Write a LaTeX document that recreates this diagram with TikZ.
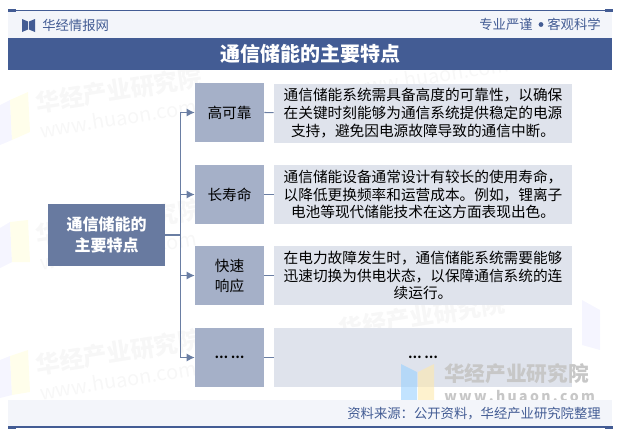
\documentclass[tikz,border=0pt]{standalone}
\usepackage{fontspec}
\setmainfont{Noto Sans CJK SC}
\usetikzlibrary{arrows.meta}

\definecolor{bandblue}{HTML}{435C94}
\definecolor{linkblue}{HTML}{6A7EA3}
\definecolor{mainblue}{HTML}{687AA0}
\definecolor{itemblue}{HTML}{A5B0C8}
\definecolor{descgray}{HTML}{DFE3EC}
\definecolor{palegray}{HTML}{F3F5FA}
\definecolor{markgray}{HTML}{F7F7F7}

\tikzset{
  itembox/.style={fill=itemblue, minimum width=51.75pt, minimum height=44.25pt, inner sep=0pt, align=center, font=\fontsize{11}{15}\selectfont},
  descbox/.style={fill=descgray, minimum width=223.5pt, minimum height=44.25pt, inner sep=0pt, align=center, font=\fontsize{11}{13.2}\selectfont},
  dotsfont/.style={font=\fontsize{9}{9}\selectfont\bfseries},
  bluetext/.style={text=bandblue, inner sep=0pt, font=\fontsize{10}{10}\selectfont},
  link/.style={draw=linkblue, line width=0.9pt},
  linkarrow/.style={link, -{Latex[length=6pt,width=6pt]}},
  markbig/.style={text=markgray, rotate=9, font=\fontsize{18}{18}\selectfont\bfseries},
  marksmall/.style={text=markgray, rotate=9, font=\fontsize{15}{15}\selectfont},
}

\begin{document}
\begin{tikzpicture}[x=0.75pt,y=-0.75pt]
\useasboundingbox (0,0) rectangle (623,436);

% watermark
\fill[blue!4] (0,105) -- (10,100) -- (12,140) -- (0,145) -- cycle;
\fill[yellow!8] (10,100) -- (28,92) -- (30,132) -- (12,140) -- cycle;
\fill[blue!4] (0,228) -- (10,222) -- (12,262) -- (0,268) -- cycle;
\fill[yellow!8] (10,222) -- (28,220) -- (30,262) -- (12,262) -- cycle;
\fill[blue!4] (0,360) -- (10,356) -- (12,395) -- (0,398) -- cycle;
\fill[yellow!8] (10,356) -- (28,350) -- (30,392) -- (12,395) -- cycle;
\fill[blue!4] (582,300) -- (600,310) -- (600,350) -- (582,345) -- cycle;
\node[markbig] (mark1) at (119,90) {华经产业研究院};
\node[marksmall] (site1) at (118,118) {www.huaon.com};
\node[markbig] (mark2) at (119,222) {华经产业研究院};
\node[marksmall] (site2) at (118,250) {www.huaon.com};
\node[markbig] (mark3) at (119,352) {华经产业研究院};
\node[marksmall] (site3) at (118,380) {www.huaon.com};
\node[marksmall] (site4) at (430,76) {www.huaon.com};
\node[markbig] (mark5) at (422,316) {华经产业研究院};

% header
\fill[palegray] (8,11) rectangle (612,38);
\draw[bandblue, line width=0.8pt] (8,10.5) -- (613,10.5);
\fill[bandblue] (8,9) rectangle (16,12);
\fill[bandblue] (605,9) rectangle (613,12);
\fill[bandblue] (22,19) -- (28,21.5) -- (28,29.5) -- (22,32) -- cycle;
\fill[bandblue] (35,19) -- (29,21.5) -- (29,29.5) -- (35,32) -- cycle;
\node[bluetext, anchor=west] (brand) at (42,25) {华经情报网};
\node[bluetext, anchor=east] (motto1) at (533,24) {专业严谨};
\node[bluetext, anchor=east] (motto2) at (601,24) {客观科学};
\fill[bandblue] (541,24.5) circle [radius=2.4];
\node[fill=bandblue, text=white, minimum width=453pt, minimum height=24pt, inner sep=0pt, font=\fontsize{15}{15}\selectfont\bfseries] (title) at (310,54) {通信储能的主要特点};

% boxes
\node[fill=mainblue, text=white, minimum width=87.75pt, minimum height=46.5pt, inner sep=0pt, align=center, font=\fontsize{12}{16}\selectfont\bfseries] (main) at (106.5,235) {通信储能的\\主要特点};

\node[itembox] (reliable) at (229.5,112.5) {高可靠};
\node[itembox] (longlife) at (229.5,194.5) {长寿命};
\node[itembox] (fastresp) at (229.5,275.5) {快速\\响应};
\node[itembox, dotsfont] (moreitem) at (229.5,357.5) {… …};

\node[descbox] (reliabletext) at (423,113) {通信储能系统需具备高度的可靠性，以确保\\在关键时刻能够为通信系统提供稳定的电源\\支持，避免因电源故障导致的通信中断。};
\node[descbox] (longlifetext) at (423,194.5) {通信储能设备通常设计有较长的使用寿命，\\以降低更换频率和运营成本。例如，锂离子\\电池等现代储能技术在这方面表现出色。};
\node[descbox] (fastresptext) at (423,275.5) {在电力故障发生时，通信储能系统需要能够\\迅速切换为供电状态，以保障通信系统的连\\续运行。};
\node[descbox, dotsfont] (moreitemtext) at (423,357.5) {… …};

% links
\coordinate (trunk) at (180.5,235);
\draw[link] (main) -- (trunk);
\draw[linkarrow] (trunk) |- (reliable);
\draw[linkarrow] (trunk) |- (longlife);
\draw[linkarrow] (trunk) |- (fastresp);
\draw[linkarrow] (trunk) |- (moreitem);

\draw[link] (reliable) -- (reliabletext);
\draw[link] (longlife) -- (longlifetext);
\draw[link] (fastresp) -- (fastresptext);
\draw[link] (moreitem) -- (moreitemtext);

% logo
\fill[blue!45!cyan!40, opacity=0.6] (401,364) -- (417,372) -- (417,400) -- (401,400) -- cycle;
\fill[yellow!50!orange!30, opacity=0.6] (434,364) -- (418,372) -- (418,400) -- (434,400) -- cycle;
\node[text=black!22, anchor=west, inner sep=0pt, font=\fontsize{15.5}{15.5}\selectfont\bfseries] (logoname) at (444,374) {华经产业研究院};
\node[text=black!22, anchor=west, inner sep=0pt, font=\fontsize{10.5}{10.5}\selectfont\bfseries] (logosite) at (444,396) {w\,w\,w\,.\,h\,u\,a\,o\,n\,.\,c\,o\,m};

% footer
\fill[palegray] (8,400) rectangle (612,427);
\draw[bandblue, line width=0.8pt] (8,427) -- (613,427);
\fill[bandblue] (8,425.5) rectangle (16,428.5);
\fill[bandblue] (605,425.5) rectangle (613,428.5);
\node[bluetext, anchor=east] (source) at (601,414) {资料来源：公开资料，华经产业研究院整理};
\end{tikzpicture}
\end{document}
